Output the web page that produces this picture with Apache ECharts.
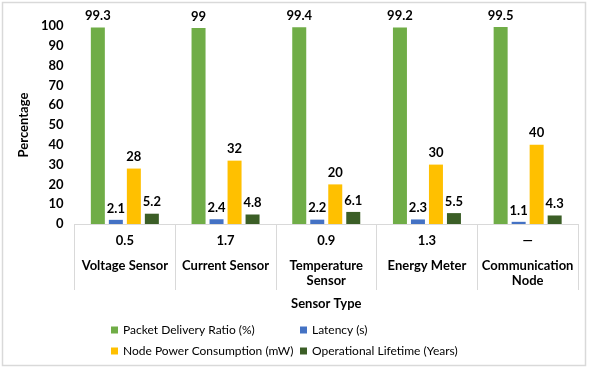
<!DOCTYPE html>
<html>
<head>
<meta charset="utf-8">
<script src="https://cdn.jsdelivr.net/npm/echarts@6/dist/echarts.min.js"></script>
<style>
html,body{margin:0;padding:0;background:#fff;}
#c{width:589px;height:369px;}
</style>
</head>
<body>
<div id="c"></div>
<script>
var categories = ['Voltage Sensor', 'Current Sensor', 'Temperature\nSensor', 'Energy Meter', 'Communication\nNode'];
var subLabels = ['0.5', '1.7', '0.9', '1.3', '—'];
var seriesNames = ['Packet Delivery Ratio (%)', 'Latency (s)', 'Node Power Consumption (mW)', 'Operational Lifetime (Years)'];
var packetDelivery = [99.3, 99, 99.4, 99.2, 99.5];
var latency = [2.1, 2.4, 2.2, 2.3, 1.1];
var powerConsumption = [28, 32, 20, 30, 40];
var lifetime = [5.2, 4.8, 6.1, 5.5, 4.3];
var yTicks = [0, 100, 10];

var FONT = 'Lato';
var colors = ['#70AD47', '#4472C4', '#FFC000', '#3B5E26'];
var values = [packetDelivery, latency, powerConsumption, lifetime];

var chart = echarts.init(document.getElementById('c'), null, {renderer: 'canvas'});

var series = values.map(function (arr, i) {
  return {
    name: seriesNames[i],
    type: 'bar',
    data: arr,
    barWidth: 14,
    barGap: '28.6%',
    itemStyle: {color: colors[i]},
    label: {
      show: true,
      position: 'top',
      distance: 5,
      color: '#000',
      fontFamily: FONT,
      fontWeight: 'bold',
      fontSize: 13
    }
  };
});

var option = {
  animation: false,
  backgroundColor: '#fff',
  grid: {left: 74.5, right: 11, top: 26, bottom: 145, containLabel: false},
  xAxis: {
    type: 'category',
    data: categories,
    name: 'Sensor Type',
    nameLocation: 'middle',
    nameGap: 73,
    nameTextStyle: {fontFamily: FONT, fontWeight: 'bold', fontSize: 13, color: '#000'},
    axisLine: {show: true, lineStyle: {color: '#d9d9d9', width: 1}},
    axisTick: {show: true, interval: 0, length: 66, lineStyle: {color: '#d9d9d9'}},
    axisLabel: {
      interval: 0,
      margin: 8,
      formatter: function (v, idx) {
        var lines = v.split('\n').map(function (s) { return '{n|' + s + '}'; }).join('\n');
        return '{v|' + subLabels[idx] + '}\n{s| }\n' + lines;
      },
      rich: {
        v: {fontFamily: FONT, fontWeight: 'bold', fontSize: 13, color: '#000', lineHeight: 18},
        s: {fontSize: 4, lineHeight: 8.5},
        n: {fontFamily: FONT, fontWeight: 'bold', fontSize: 13, color: '#000', lineHeight: 15}
      }
    }
  },
  yAxis: {
    type: 'value',
    min: yTicks[0],
    max: yTicks[1],
    interval: yTicks[2],
    name: 'Percentage',
    nameLocation: 'middle',
    nameGap: 38,
    nameTextStyle: {fontFamily: FONT, fontSize: 13, color: '#000', fontWeight: 'bold'},
    axisLine: {show: false},
    axisTick: {show: false},
    splitLine: {show: false},
    axisLabel: {margin: 11, fontFamily: FONT, fontWeight: 'bold', fontSize: 13, color: '#000'}
  },
  legend: [
    {
      orient: 'vertical',
      left: 106,
      top: 319,
      itemWidth: 7,
      itemHeight: 7,
      itemGap: 9,
      icon: 'rect',
      data: [seriesNames[0], seriesNames[2]],
      textStyle: {fontFamily: FONT, fontSize: 12, color: '#000'}
    },
    {
      orient: 'vertical',
      left: 295,
      top: 319,
      itemWidth: 7,
      itemHeight: 7,
      itemGap: 9,
      icon: 'rect',
      data: [seriesNames[1], seriesNames[3]],
      textStyle: {fontFamily: FONT, fontSize: 12, color: '#000'}
    }
  ],
  graphic: [{
    type: 'rect',
    shape: {x: 2.5, y: 2.5, width: 583, height: 363},
    style: {fill: 'none', stroke: '#d9d9d9', lineWidth: 1.5},
    silent: true
  }],
  series: series
};
chart.setOption(option);
</script>
</body>
</html>
